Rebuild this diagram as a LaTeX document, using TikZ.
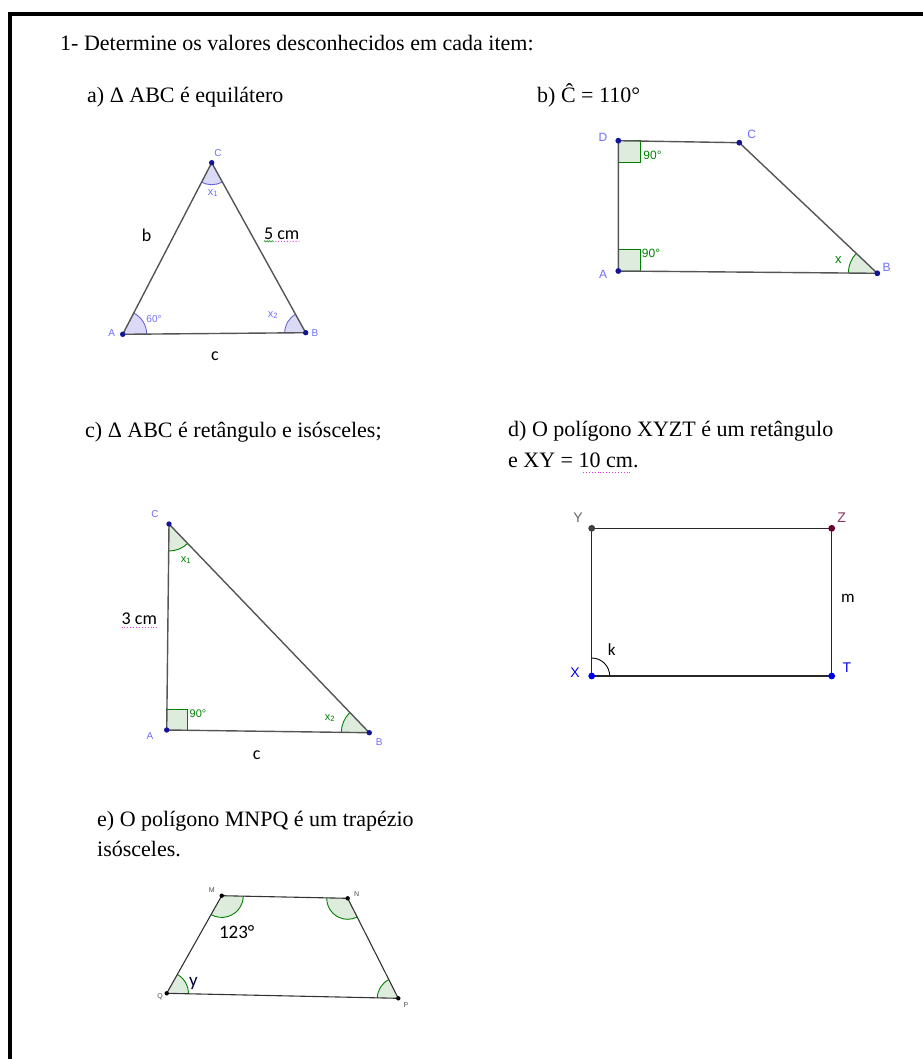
\documentclass[tikz,border=0pt]{standalone}
\usepackage{fontspec}
\setmainfont{Liberation Serif}
\newfontfamily\geofont{Liberation Sans}
\newfontfamily\calfont{Carlito}
\usetikzlibrary{calc, angles, decorations.pathmorphing}

\definecolor{ptblue}{RGB}{20,20,150}
\definecolor{lblblue}{RGB}{110,110,250}
\definecolor{lavfill}{RGB}{218,218,246}
\definecolor{lavline}{RGB}{100,100,215}
\definecolor{ggreen}{RGB}{0,128,0}
\definecolor{gfill}{RGB}{222,236,222}
\definecolor{seggray}{RGB}{85,85,85}
\definecolor{zmaroon}{RGB}{102,0,51}
\definecolor{zlabel}{RGB}{140,50,90}
\definecolor{xblue}{RGB}{0,0,230}
\definecolor{spellpink}{RGB}{220,60,220}
\definecolor{spellgreen}{RGB}{60,160,60}

\begin{document}
\begin{tikzpicture}[x=1pt, y=-1pt,
		% Exercise text of the sheet
		txt/.style={font=\fontsize{22}{26}\selectfont, anchor=base west, inner sep=0pt},
		% GeoGebra figure styles
		seg/.style={draw=seggray, line width=1.4pt, line join=round},
		vlbl/.style={font=\geofont\fontsize{10}{12}\selectfont, text=lblblue, inner sep=0pt},
		side/.style={font=\calfont\fontsize{18}{20}\selectfont, inner sep=0pt},
		alb/.style={font=\geofont\fontsize{11}{13}\selectfont, inner sep=0pt},
		ang-blue/.style={draw=lavline, fill=lavfill, line width=0.9pt},
		ang-green/.style={draw=ggreen, fill=gfill, line width=0.9pt},
		rt-green/.style={draw=ggreen, fill=gfill, line width=0.9pt},
		% Spell-check marks under some labels
		spell/.style={draw=spellpink, dotted, line width=0.9pt},
		squiggle/.style={draw=spellgreen, line width=0.7pt, decorate, decoration={snake, amplitude=0.7pt, segment length=2.5pt}}
		]
		
		\useasboundingbox (0,0) rectangle (922,1059);
		\draw[line width=4pt] (9.5,1070) -- (9.5,14) -- (935,14);
		
		% ==============================================================================
		% 1. TEXT
		% ==============================================================================
		\node[txt] (title) at (60,50.5) {1- Determine os valores desconhecidos em cada item:};
		\node[txt] (ta) at (87,103) {a) Δ ABC é equilátero};
		\node[txt] (tb) at (537,103) {b) Ĉ = 110°};
		\node[txt] (tc) at (85,437) {c) Δ ABC é retângulo e isósceles;};
		\node[txt] (td1) at (508,436) {d) O polígono XYZT é um retângulo};
		\node[txt] (td2) at (508,467) {e XY = 10 cm.};
		\node[txt] (te1) at (97,826) {e) O polígono MNPQ é um trapézio};
		\node[txt] (te2) at (97,856) {isósceles.};
		\draw[spell] (583,472) -- (631,472);
		
		% ==============================================================================
		% 2. ITEM a: equilateral triangle
		% ==============================================================================
		\coordinate (aA) at (122.7,334.3);
		\coordinate (aB) at (305.7,332.7);
		\coordinate (aC) at (211.7,162.7);
		\pic[ang-blue, angle radius=24pt] {angle=aB--aA--aC};
		\pic[ang-blue, angle radius=21pt] {angle=aC--aB--aA};
		\pic[ang-blue, angle radius=22pt] {angle=aA--aC--aB};
		\draw[seg] (aA) -- (aB) -- (aC) -- cycle;
		\foreach \p in {aA,aB,aC} \fill[ptblue] (\p) circle (2.7pt);
		\node[vlbl] (aAl) at (111.7,333) {A};
		\node[vlbl] (aBl) at (315,333) {B};
		\node[vlbl] (aCl) at (218,153) {C};
		\node[alb, text=lblblue, font=\geofont\fontsize{10}{12}\selectfont] (a60) at (154,319) {60°};
		\node[alb, text=lblblue] (ax1) at (213,193) {x\textsubscript{1}};
		\node[alb, text=lblblue] (ax2) at (273,315) {x\textsubscript{2}};
		\node[side] (ab) at (146.7,235) {b};
		\node[side] (a5cm) at (281.7,233.3) {5 cm};
		\node[side] (ac) at (215,356) {c};
		\draw[squiggle] ([yshift=-2pt]a5cm.south west) -- ($([yshift=-2pt]a5cm.south west)!0.28!([yshift=-2pt]a5cm.south east)$);
		\draw[spell] ($([yshift=-2pt]a5cm.south west)!0.32!([yshift=-2pt]a5cm.south east)$) -- ([yshift=-2pt]a5cm.south east);
		
		% ==============================================================================
		% 3. ITEM b: right trapezoid
		% ==============================================================================
		\coordinate (bA) at (618.3,271);
		\coordinate (bB) at (877.3,273.3);
		\coordinate (bC) at (739.3,142.7);
		\coordinate (bD) at (618.3,140.7);
		\draw[rt-green] (bD) rectangle ++(21.7,21.7);
		\draw[rt-green] (bA) rectangle ++(21.7,-21.7);
		\pic[ang-green, angle radius=29pt] {angle=bC--bB--bA};
		\draw[seg] (bA) -- (bB) -- (bC) -- (bD) -- cycle;
		\foreach \p in {bA,bB,bC,bD} \fill[ptblue] (\p) circle (2.9pt);
		\node[vlbl, font=\geofont\fontsize{12}{14}\selectfont] (bAl) at (603,274) {A};
		\node[vlbl, font=\geofont\fontsize{12}{14}\selectfont] (bBl) at (886.7,267) {B};
		\node[vlbl, font=\geofont\fontsize{12}{14}\selectfont] (bCl) at (751.7,134) {C};
		\node[vlbl, font=\geofont\fontsize{12}{14}\selectfont] (bDl) at (603,137) {D};
		\node[alb, text=ggreen, font=\geofont\fontsize{12}{14}\selectfont] (b90d) at (652.5,155) {90°};
		\node[alb, text=ggreen, font=\geofont\fontsize{12}{14}\selectfont] (b90a) at (651,253) {90°};
		\node[alb, text=ggreen, font=\geofont\fontsize{13}{15}\selectfont] (bx) at (838.3,260) {x};
		
		% ==============================================================================
		% 4. ITEM c: right isosceles triangle
		% ==============================================================================
		\coordinate (cA) at (166.7,730);
		\coordinate (cB) at (369.3,732.7);
		\coordinate (cC) at (169,524);
		\draw[rt-green] (cA) rectangle ++(20.7,-20.7);
		\pic[ang-green, angle radius=27pt] {angle=cA--cC--cB};
		\pic[ang-green, angle radius=28pt] {angle=cC--cB--cA};
		\draw[seg] (cA) -- (cB) -- (cC) -- cycle;
		\foreach \p in {cA,cB,cC} \fill[ptblue] (\p) circle (2.7pt);
		\node[vlbl] (cAl) at (150,736) {A};
		\node[vlbl] (cBl) at (379.3,741.7) {B};
		\node[vlbl] (cCl) at (155,514) {C};
		\node[alb, text=ggreen] (c90) at (198,713.3) {90°};
		\node[alb, text=ggreen] (cx1) at (186,560) {x\textsubscript{1}};
		\node[alb, text=ggreen] (cx2) at (330,718) {x\textsubscript{2}};
		\node[side] (c3cm) at (139.3,619) {3 cm};
		\node[side] (cc) at (256.7,755) {c};
		\draw[spell] ([yshift=-2pt]c3cm.south west) -- ([yshift=-2pt]c3cm.south east);
		
		% ==============================================================================
		% 5. ITEM d: rectangle XYZT
		% ==============================================================================
		\coordinate (dX) at (591.7,676);
		\coordinate (dY) at (591.7,528.3);
		\coordinate (dZ) at (831.7,528.3);
		\coordinate (dT) at (831.7,676);
		\pic[draw=black, line width=0.9pt, angle radius=18pt] {angle=dT--dX--dY};
		\draw[seg, draw=black!85] (dX) -- (dY) -- (dZ) -- (dT) -- cycle;
		\fill[black!75] (dY) circle (3.4pt);
		\fill[zmaroon] (dZ) circle (3.4pt);
		\fill[xblue] (dX) circle (3.4pt);
		\fill[xblue] (dT) circle (3.4pt);
		\node[vlbl, font=\geofont\fontsize{14}{16}\selectfont, text=black!60] (dYl) at (578,518) {Y};
		\node[vlbl, font=\geofont\fontsize{14}{16}\selectfont, text=zlabel] (dZl) at (841.7,518) {Z};
		\node[vlbl, font=\geofont\fontsize{14}{16}\selectfont, text=xblue] (dXl) at (575,673) {X};
		\node[vlbl, font=\geofont\fontsize{14}{16}\selectfont, text=xblue] (dTl) at (847,668) {T};
		\node[side, font=\calfont\fontsize{17}{19}\selectfont] (dm) at (848,598) {m};
		\node[side, font=\calfont\fontsize{17}{19}\selectfont] (dk) at (611.7,650) {k};
		
		% ==============================================================================
		% 6. ITEM e: isosceles trapezoid MNPQ
		% ==============================================================================
		\coordinate (eM) at (221.7,895.7);
		\coordinate (eN) at (347.7,898.3);
		\coordinate (eP) at (398.3,998.3);
		\coordinate (eQ) at (166.7,993.3);
		\pic[ang-green, angle radius=21.7pt] {angle=eQ--eM--eN};
		\pic[ang-green, angle radius=21pt] {angle=eM--eN--eP};
		\pic[ang-green, angle radius=21.7pt] {angle=eP--eQ--eM};
		\pic[ang-green, angle radius=21pt] {angle=eN--eP--eQ};
		\draw[seg, draw=black!80, line width=1.1pt] (eM) -- (eN) -- (eP) -- (eQ) -- cycle;
		\foreach \p in {eM,eN,eP,eQ} \fill[black] (\p) circle (2.2pt);
		\node[vlbl, font=\geofont\fontsize{7}{8}\selectfont, text=black!70] (eMl) at (211.7,890) {M};
		\node[vlbl, font=\geofont\fontsize{7}{8}\selectfont, text=black!70] (eNl) at (356.7,894) {N};
		\node[vlbl, font=\geofont\fontsize{7}{8}\selectfont, text=black!70] (ePl) at (406,1005) {P};
		\node[vlbl, font=\geofont\fontsize{7}{8}\selectfont, text=black!70] (eQl) at (160,997) {Q};
		\node[side, font=\calfont\fontsize{19}{21}\selectfont] (e123) at (236.7,931.7) {123°};
		\node[side, font=\calfont\fontsize{19}{21}\selectfont, text=black!80!blue] (ey) at (193.3,983.3) {y};
	\end{tikzpicture}
\end{document}
